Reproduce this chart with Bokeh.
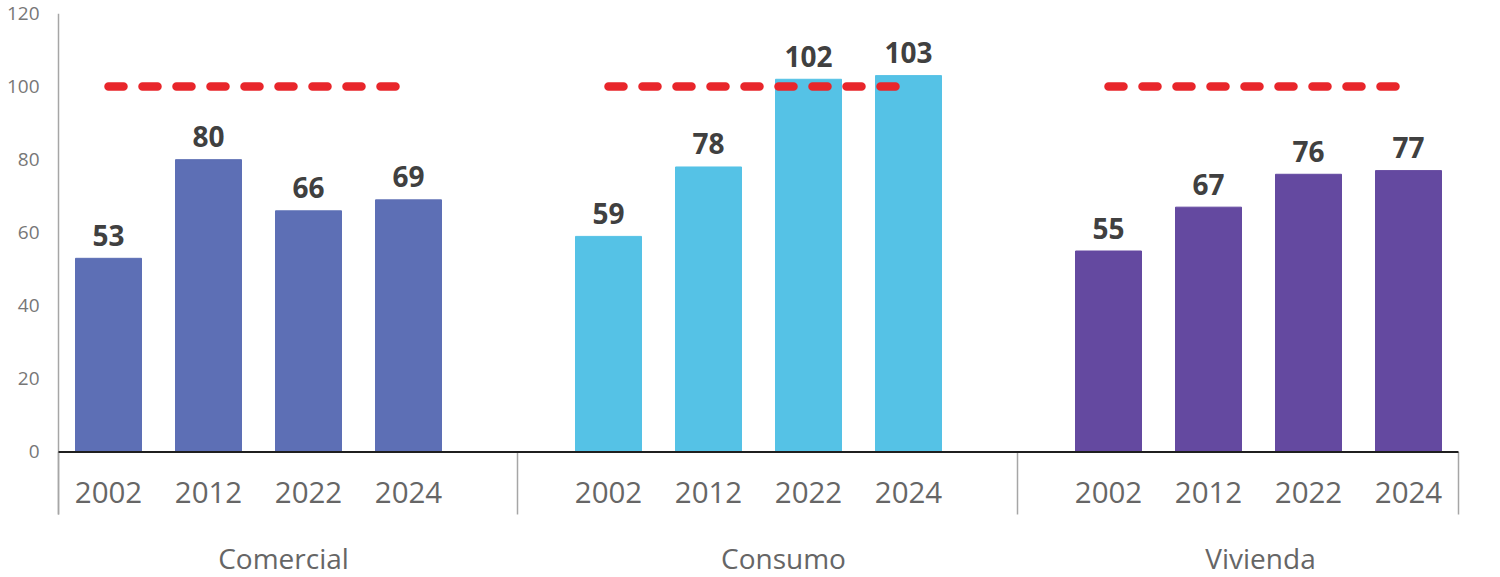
from bokeh.plotting import figure
from bokeh.models import Range1d, FixedTicker, ColumnDataSource
from bokeh.core.properties import value
from bokeh.embed import file_html
from bokeh.resources import INLINE

# ---- data ----
groups = ["Comercial", "Consumo", "Vivienda"]
years = ["2002", "2012", "2022", "2024"]
comercial = [53, 80, 66, 69]
consumo = [59, 78, 102, 103]
vivienda = [55, 67, 76, 77]
benchmark = [100, 100, 100]
y_ticks = [0, 20, 40, 60, 80, 100, 120]

# ---- style / layout ----
group_colors = ["#5D6FB5", "#55C2E6", "#6449A0"]
FONT = "Open Sans"
SLOTS = len(years) + 1          # 4 bars + 1 empty slot per group
N_SLOTS = SLOTS * len(groups) - 1
group_label_offset = [2.25, 2.25, 2.02]   # label position inside each group (slots)
SEP_OFFSET = 4.59
Y_YEAR = -11.2
Y_GROUP = -28.9
Y_SEP = -17.1

series = [comercial, consumo, vivienda]
xs, tops, cols, labs, yrs = [], [], [], [], []
for gi, vals in enumerate(series):
    for j, v in enumerate(vals):
        xs.append(gi * SLOTS + j + 0.5)
        tops.append(v)
        cols.append(group_colors[gi])
        labs.append(str(v))
        yrs.append(years[j])
src = ColumnDataSource(dict(x=xs, top=tops, color=cols, lab=labs, yr=yrs))

p = figure(width=1484, height=577, output_backend="svg", toolbar_location=None,
           x_range=Range1d(-0.02, N_SLOTS + 0.02), y_range=Range1d(-34.35, 120),
           x_axis_location=None, min_border_left=56, min_border_right=24,
           min_border_top=13, min_border_bottom=0)
p.outline_line_color = None
p.grid.visible = False
p.background_fill_color = "white"

ya = p.yaxis[0]
ya.ticker = FixedTicker(ticks=y_ticks)
ya.axis_line_color = None
ya.major_tick_line_color = None
ya.minor_tick_line_color = None
ya.major_tick_out = 0
ya.major_tick_in = 0
ya.major_label_standoff = 17
ya.major_label_text_font = FONT
ya.major_label_text_font_size = "19px"
ya.major_label_text_color = "#777777"

# bars
p.vbar(x="x", top="top", bottom=0, width=0.66, color="color", source=src)

# value labels
p.text(x="x", y="top", text="lab", source=src, text_align="center",
       text_baseline="alphabetic", y_offset=-23, text_font=value(FONT),
       text_font_style="bold", text_font_size="28px", text_color="#404040")

# benchmark dashed lines (first to last bar of each group)
bx0 = [gi * SLOTS + 0.5 for gi in range(len(groups))]
bx1 = [gi * SLOTS + len(years) - 0.5 for gi in range(len(groups))]
p.segment(x0=bx0, y0=benchmark, x1=bx1, y1=benchmark, line_color="#E8262B",
          line_width=8.5, line_dash="15 19", line_cap="round")

# y axis line + group separators
sep_x = [0] + [gi * SLOTS + SEP_OFFSET for gi in range(len(groups) - 1)] + [N_SLOTS]
p.segment(x0=[0], y0=[Y_SEP], x1=[0], y1=[120], line_color="#a6a6a6", line_width=1.5)
p.segment(x0=sep_x, y0=[0] * len(sep_x), x1=sep_x, y1=[Y_SEP] * len(sep_x),
          line_color="#a6a6a6", line_width=1.5)

# x axis line
p.segment(x0=[0], y0=[0], x1=[N_SLOTS], y1=[0], line_color="#1f1f1f", line_width=2)

# year labels
p.text(x="x", y=Y_YEAR, text="yr", source=src, text_align="center",
       text_baseline="middle", text_font=value(FONT), text_font_size="29.5px",
       text_color="#666666")

# group labels
gx = [gi * SLOTS + group_label_offset[gi] for gi in range(len(groups))]
p.text(x=gx, y=[Y_GROUP] * len(groups), text=groups, text_align="center",
       text_baseline="middle", text_font=value(FONT), text_font_size="28px",
       text_color="#666666")

open("out.html", "w").write(file_html(p, INLINE))
